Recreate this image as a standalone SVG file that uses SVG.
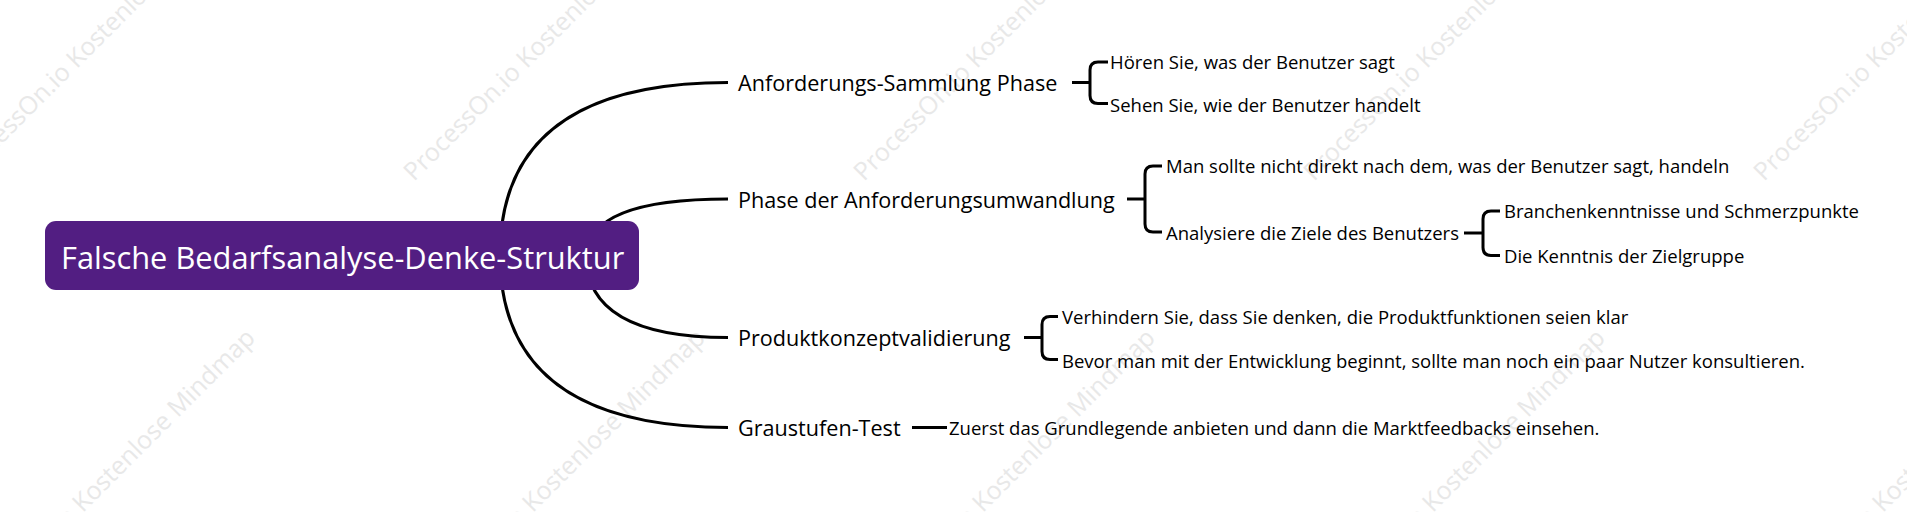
<svg xmlns="http://www.w3.org/2000/svg" xmlns:xlink="http://www.w3.org/1999/xlink" width="1907" height="512" viewBox="0 0 1907 512">
  <style>
    .wm { font-family: "Open Sans", "Noto Sans", sans-serif; font-size: 25px; fill: #e8e8e8; }
    .root-box { fill: #521e82; }
    .root-txt { font-family: "Open Sans", "Noto Sans", sans-serif; font-size: 30.8px; fill: #ffffff; dominant-baseline: central; }
    .l1 { font-family: "Open Sans", "Noto Sans", sans-serif; font-size: 21.6px; fill: #000000; dominant-baseline: central; }
    .l2 { font-family: "Open Sans", "Noto Sans", sans-serif; font-size: 18.5px; fill: #000000; dominant-baseline: central; }
    .link { fill: none; stroke: #000000; stroke-width: 3; stroke-linecap: butt; }
  </style>
  <defs>
    <text id="wm" class="wm" transform="rotate(-45)">ProcessOn.io Kostenlose Mindmap</text>
  </defs>
  <rect x="0" y="0" width="1907" height="512" fill="#ffffff"/>

  <g id="watermark">
    <use xlink:href="#wm" x="-36" y="182"/>
    <use xlink:href="#wm" x="414" y="182"/>
    <use xlink:href="#wm" x="864" y="182"/>
    <use xlink:href="#wm" x="1314" y="182"/>
    <use xlink:href="#wm" x="1764" y="182"/>
    <use xlink:href="#wm" x="-30" y="626"/>
    <use xlink:href="#wm" x="420" y="626"/>
    <use xlink:href="#wm" x="870" y="626"/>
    <use xlink:href="#wm" x="1320" y="626"/>
    <use xlink:href="#wm" x="1770" y="626"/>
  </g>

  <g id="connectors">
    <path class="link" d="M500,255 Q500,82.5 728,82.5"/>
    <path class="link" d="M588,255 Q588,199 728,199"/>
    <path class="link" d="M586,255 Q586,337.5 728,337.5"/>
    <path class="link" d="M500,255 Q500,427.5 728,427.5"/>
    <!-- Anforderungs-Sammlung Phase -->
    <path class="link" d="M1072,82.5 H1090"/>
    <path class="link" d="M1108,62 H1098 Q1090,62 1090,70 V95.5 Q1090,103.5 1098,103.5 H1108"/>
    <!-- Phase der Anforderungsumwandlung -->
    <path class="link" d="M1127,199 H1145"/>
    <path class="link" d="M1162,166 H1153 Q1145,166 1145,174 V224 Q1145,232 1153,232 H1162"/>
    <!-- Analysiere die Ziele des Benutzers -->
    <path class="link" d="M1464,233 H1483"/>
    <path class="link" d="M1500,211 H1491 Q1483,211 1483,219 V247.5 Q1483,255.5 1491,255.5 H1500"/>
    <!-- Produktkonzeptvalidierung -->
    <path class="link" d="M1024,337.5 H1042"/>
    <path class="link" d="M1058,316.5 H1050 Q1042,316.5 1042,324.5 V351.5 Q1042,359.5 1050,359.5 H1058"/>
    <!-- Graustufen-Test -->
    <path class="link" d="M912,427.5 H947"/>
  </g>

  <g id="root">
    <rect class="root-box" x="45" y="221" width="594" height="69" rx="11" ry="11"/>
    <text class="root-txt" x="61" y="256.5">Falsche Bedarfsanalyse-Denke-Struktur</text>
  </g>

  <g id="n1"><text class="l1" x="738" y="82.5">Anforderungs-Sammlung Phase</text></g>
  <g id="n1a"><text class="l2" x="1110" y="61.5">Hören Sie, was der Benutzer sagt</text></g>
  <g id="n1b"><text class="l2" x="1110" y="104">Sehen Sie, wie der Benutzer handelt</text></g>

  <g id="n2"><text class="l1" x="738" y="199">Phase der Anforderungsumwandlung</text></g>
  <g id="n2a"><text class="l2" x="1166" y="165.5">Man sollte nicht direkt nach dem, was der Benutzer sagt, handeln</text></g>
  <g id="n2b"><text class="l2" x="1166" y="232">Analysiere die Ziele des Benutzers</text></g>
  <g id="n2b1"><text class="l2" x="1504" y="210.5">Branchenkenntnisse und Schmerzpunkte</text></g>
  <g id="n2b2"><text class="l2" x="1504" y="255.5">Die Kenntnis der Zielgruppe</text></g>

  <g id="n3"><text class="l1" x="738" y="337.5">Produktkonzeptvalidierung</text></g>
  <g id="n3a"><text class="l2" x="1062" y="316">Verhindern Sie, dass Sie denken, die Produktfunktionen seien klar</text></g>
  <g id="n3b"><text class="l2" x="1062" y="360">Bevor man mit der Entwicklung beginnt, sollte man noch ein paar Nutzer konsultieren.</text></g>

  <g id="n4"><text class="l1" x="738" y="427.5">Graustufen-Test</text></g>
  <g id="n4a"><text class="l2" x="949" y="427.5">Zuerst das Grundlegende anbieten und dann die Marktfeedbacks einsehen.</text></g>
</svg>
